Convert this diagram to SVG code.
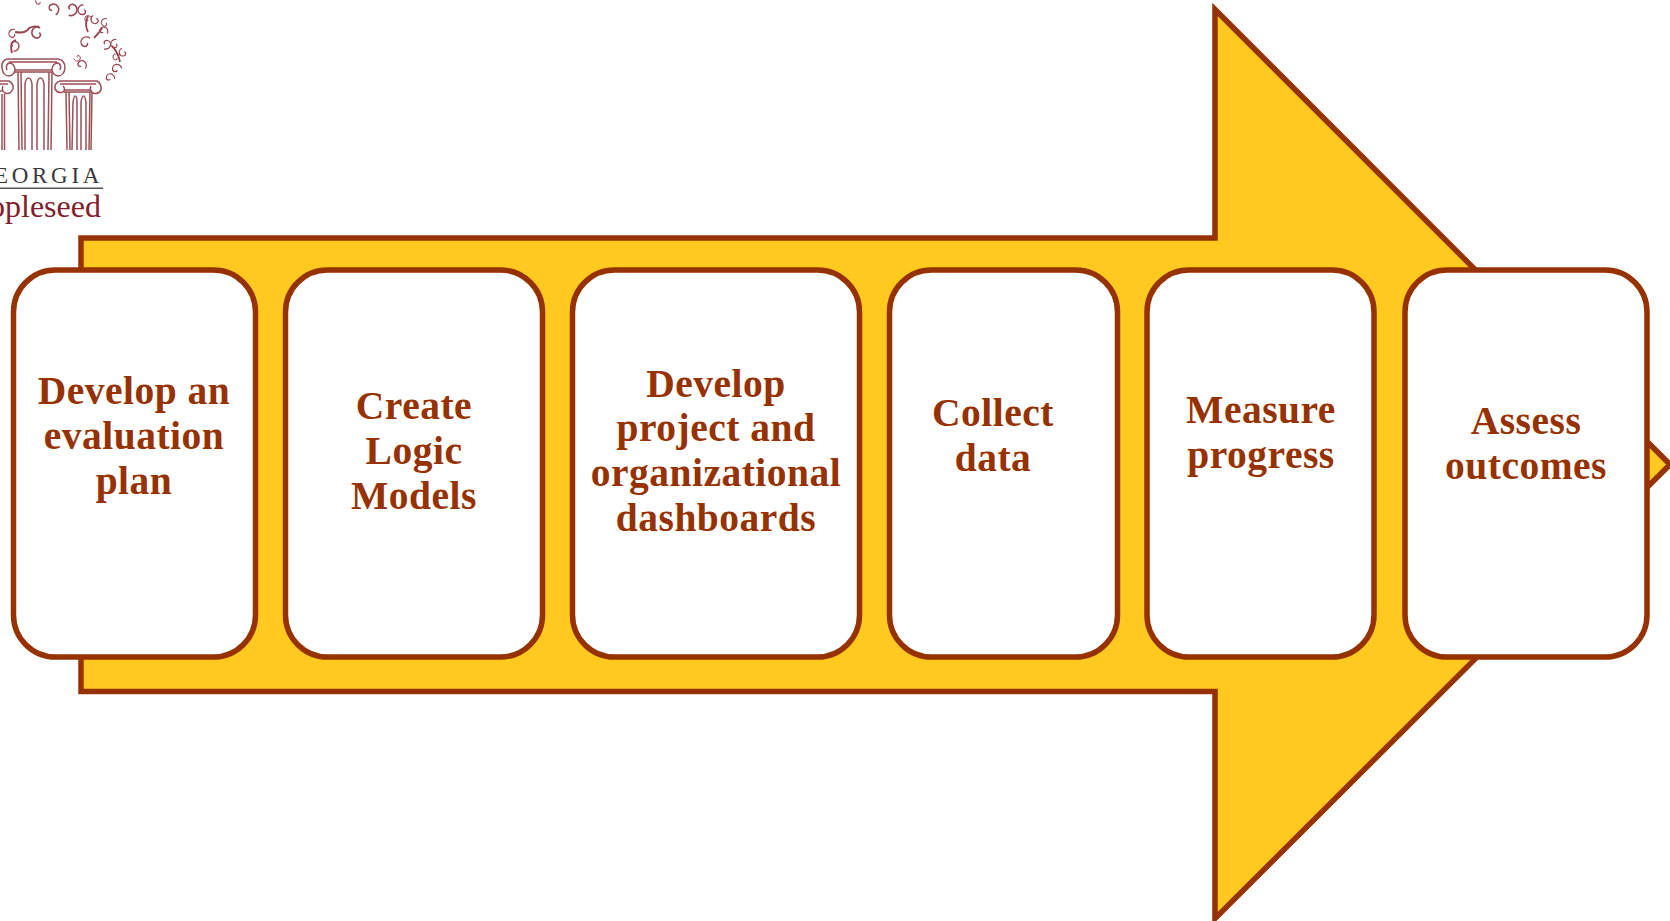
<svg xmlns="http://www.w3.org/2000/svg" width="1670" height="921" viewBox="0 0 1670 921">
<style>
.box{fill:#fff;stroke:#963200;stroke-width:5.5}
.lbl{font-family:"Liberation Serif",serif;font-weight:700;font-size:39.5px;letter-spacing:.5px;fill:#963200;text-anchor:middle}
.lg{fill:none;stroke:#9a5057;stroke-width:1.5}
.lt{fill:none;stroke:#9a4450;stroke-width:1.8}
</style>
<defs>
<path id="s" d="M0 0a2 2 0 0 1 2 2a4 4 0 0 1-4 4a6 6 0 0 1-6-6a7 7 0 0 1 7-7"/>
</defs>
<rect width="1670" height="921" fill="#fff"/>
<g id="logo">
<path class="lg" d="M7 59H58Q65 60 65 68Q64 76 58 76Q52 75 52 69Q53 63 58 63Q62 65 60 70M7 59Q1 61 2 68Q3 76 9 76Q15 75 15 69Q14 63 9 63Q5 65 7 70M9 62H57M15 70H52M15 72H52"/>
<path class="lg" d="M18 72L19 150M21 72L22 150M49 72L48 150M52 72L51 150M25 150V84Q26 78 28.500 78Q31 78 32 84V150M37 150V84Q38 78 40.500 78Q43 78 44 84V150"/>
<path class="lg" d="M-2 81H9Q14 84 13 89Q10 95 5 93Q1 90 3 86M-2 84H8M-2 91H3M2 94V150M4.500 94V150"/>
<path class="lg" d="M60 81H97Q102 84 101 90Q98 95 93 93Q89 90 91 86M60 81Q54 83 55 89Q58 94 63 92Q66 89 63 86M60 84H96M64 90H91M64 92H91M66 92L67 150M69 92L70 150M90 92L89 150M92 92L91 150M72 150L73 102Q74 96 75 96Q77 96 77 102V150M81 150V102Q82 96 83.500 96Q85 96 86 102V150"/>
<g class="lt">
<use href="#s" transform="translate(52,10) rotate(150) scale(.85)"/>
<use href="#s" transform="translate(40,2) rotate(60) scale(.6)"/>
<use href="#s" transform="translate(70,9) rotate(200) scale(.9)"/>
<use href="#s" transform="translate(84,10) scale(.75)"/>
<use href="#s" transform="translate(88,20) rotate(90) scale(.55)"/>
<use href="#s" transform="translate(96,19) rotate(-30) scale(.65)"/>
<use href="#s" transform="translate(106,23) rotate(20) scale(.6)"/>
<use href="#s" transform="translate(87,43) rotate(40) scale(.8)"/>
<use href="#s" transform="translate(103,32) rotate(120) scale(.65)"/>
<use href="#s" transform="translate(105,44) rotate(200) scale(.7)"/>
<use href="#s" transform="translate(116,44) rotate(10) scale(.65)"/>
<use href="#s" transform="translate(124,52) rotate(-20) scale(.6)"/>
<use href="#s" transform="translate(117,58) rotate(60) scale(.55)"/>
<use href="#s" transform="translate(117,70) rotate(80) scale(.7)"/>
<use href="#s" transform="translate(110,79) rotate(100) scale(.65)"/>
<use href="#s" transform="translate(81,66) rotate(130) scale(.7)"/>
<use href="#s" transform="translate(77,57) rotate(250) scale(.5)"/>
<use href="#s" transform="translate(13,46) rotate(180) scale(.75)"/>
<use href="#s" transform="translate(14,34) rotate(20) scale(.65)"/>
<use href="#s" transform="translate(39,33) rotate(10) scale(.9)"/>
<path d="M12 53Q9 42 16 40M15 32Q26 34 29 28Q36 25 40 28M94 38Q99 33 102 28M88 32Q84 24 88 16M112 46Q118 52 120 62"/>
</g>
<text x="-6" y="183" font-family="Liberation Serif,serif" font-size="23" letter-spacing="3.700" fill="#38383a">EORGIA</text>
<rect x="0" y="187.500" width="103" height="1.500" fill="#55545a"/>
<text x="-11" y="217" font-family="Liberation Serif,serif" font-size="32" fill="#7f1e2d">opleseed</text>
</g>
<g id="arrow">
<path d="M81 238H1215V9.500L1670 464.500L1215 918.500V691.500H81Z" fill="#ffc91f" stroke="#963200" stroke-width="5.500"/>
</g>
<g id="connectors"></g>
<g id="n1"><rect class="box" x="13.500" y="270" width="242" height="387" rx="42"/>
<text class="lbl" x="134" y="404">Develop an</text><text class="lbl" x="134" y="449">evaluation</text><text class="lbl" x="134" y="494">plan</text></g>
<g id="n2"><rect class="box" x="285.500" y="270" width="257" height="387" rx="42"/>
<text class="lbl" x="414" y="419">Create</text><text class="lbl" x="414" y="464">Logic</text><text class="lbl" x="414" y="509">Models</text></g>
<g id="n3"><rect class="box" x="572.500" y="270" width="287" height="387" rx="42"/>
<text class="lbl" x="716" y="397">Develop</text><text class="lbl" x="716" y="441">project and</text><text class="lbl" x="716" y="486">organizational</text><text class="lbl" x="716" y="531">dashboards</text></g>
<g id="n4"><rect class="box" x="889.500" y="270" width="228" height="387" rx="42"/>
<text class="lbl" x="993" y="426">Collect</text><text class="lbl" x="993" y="471">data</text></g>
<g id="n5"><rect class="box" x="1147" y="270" width="227" height="387" rx="42"/>
<text class="lbl" x="1261" y="423">Measure</text><text class="lbl" x="1261" y="468">progress</text></g>
<g id="n6"><rect class="box" x="1405" y="270" width="242" height="387" rx="42"/>
<text class="lbl" x="1526" y="434">Assess</text><text class="lbl" x="1526" y="479">outcomes</text></g>
</svg>
